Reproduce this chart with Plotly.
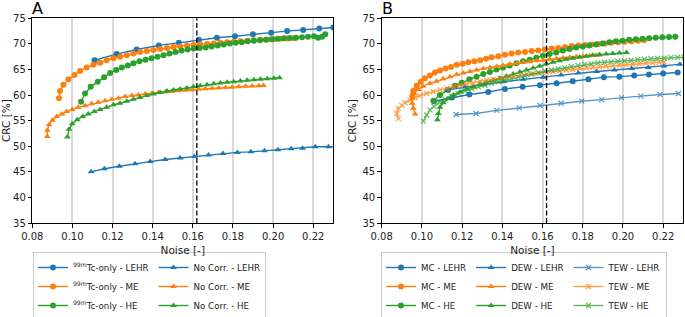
import plotly.graph_objects as go

# ---------------- data: panel A ----------------
tc_lehr_x = [0.111, 0.122, 0.132, 0.143, 0.153, 0.163, 0.172, 0.181, 0.190, 0.199, 0.207, 0.215, 0.223, 0.230]
tc_lehr_y = [66.8, 68.0, 68.9, 69.7, 70.2, 70.8, 71.2, 71.5, 71.9, 72.2, 72.5, 72.7, 73.0, 73.2]

tc_me_x = [0.0933, 0.0938, 0.0955, 0.098, 0.101, 0.1038, 0.1071, 0.1104, 0.1138, 0.1171, 0.1204, 0.1238,
           0.1271, 0.1304, 0.1337, 0.1371, 0.1404, 0.1437, 0.1471, 0.1504, 0.1537, 0.1571, 0.1604, 0.1637,
           0.1671, 0.1704, 0.1737, 0.1771, 0.1804, 0.1837, 0.1871, 0.1904, 0.1937, 0.1971, 0.2004, 0.2037,
           0.2071, 0.2104]
tc_me_y = [59.4, 60.8, 62.0, 63.1, 63.9, 64.7, 65.4, 65.9, 66.3, 66.8, 67.2, 67.5, 67.8, 68.1, 68.4, 68.6,
           68.8, 69.0, 69.2, 69.4, 69.5, 69.7, 69.8, 69.9, 70.0, 70.1, 70.2, 70.3, 70.4, 70.5, 70.6, 70.7,
           70.8, 70.85, 70.9, 71.0, 71.05, 71.1]

tc_he_x = [0.1043, 0.1063, 0.1091, 0.1126, 0.1158, 0.1188, 0.1218, 0.1246, 0.1276, 0.1304, 0.1334, 0.1364,
           0.1394, 0.1424, 0.1454, 0.1484, 0.1514, 0.1544, 0.1574, 0.1604, 0.1634, 0.1664, 0.1694, 0.1724,
           0.1754, 0.1784, 0.1814, 0.1844, 0.1874, 0.1904, 0.1934, 0.1964, 0.1994, 0.2024, 0.2054, 0.2084,
           0.2114, 0.2144, 0.2174, 0.2204, 0.2224, 0.2244, 0.226]
tc_he_y = [58.7, 60.3, 61.6, 62.6, 63.5, 64.3, 64.9, 65.4, 65.8, 66.2, 66.6, 66.9, 67.2, 67.5, 67.8, 68.1,
           68.4, 68.7, 68.9, 69.1, 69.2, 69.3, 69.5, 69.7, 69.9, 70.1, 70.2, 70.3, 70.5, 70.6, 70.7, 70.8,
           70.9, 71.0, 71.1, 71.15, 71.2, 71.3, 71.4, 71.5, 71.2, 71.4, 71.9]

nc_lehr_x = [0.1093, 0.1159, 0.1234, 0.1312, 0.1387, 0.1462, 0.1537, 0.1608, 0.1678, 0.175, 0.1822, 0.1889,
             0.1957, 0.2024, 0.209, 0.2147, 0.221, 0.2276, 0.2335]
nc_lehr_y = [45.0, 45.6, 46.1, 46.6, 47.0, 47.4, 47.7, 48.0, 48.3, 48.6, 48.8, 48.9, 49.1, 49.3, 49.5, 49.6,
             49.9, 49.9, 49.9]

nc_me_x = [0.0875, 0.0875, 0.0883, 0.090, 0.0922, 0.0947, 0.0971, 0.0999, 0.1029, 0.1063, 0.1096, 0.1129,
           0.1163, 0.1196, 0.1229, 0.1263, 0.1296, 0.1329, 0.1363, 0.1396, 0.1429, 0.1463, 0.1496, 0.1529,
           0.1563, 0.1596, 0.1629, 0.1663, 0.1696, 0.1729, 0.1763, 0.1796, 0.1829, 0.1863, 0.1896, 0.1929,
           0.1952]
nc_me_y = [51.9, 53.1, 54.2, 55.1, 55.8, 56.3, 56.8, 57.2, 57.6, 57.9, 58.3, 58.6, 58.9, 59.2, 59.4, 59.7,
           59.9, 60.0, 60.2, 60.35, 60.5, 60.6, 60.7, 60.85, 60.95, 61.05, 61.15, 61.25, 61.35, 61.4, 61.5,
           61.55, 61.6, 61.7, 61.75, 61.8, 61.85]

nc_he_x = [0.0975, 0.0983, 0.0999, 0.1024, 0.1051, 0.1079, 0.1109, 0.1138, 0.1171, 0.1204, 0.1237, 0.1271,
           0.1304, 0.1337, 0.1371, 0.1404, 0.1437, 0.1471, 0.1504, 0.1537, 0.1571, 0.1604, 0.1637, 0.1671,
           0.1704, 0.1737, 0.1771, 0.1804, 0.1837, 0.1871, 0.1904, 0.1937, 0.1971, 0.2004, 0.2032]
nc_he_y = [51.8, 53.3, 54.4, 55.2, 55.8, 56.3, 56.8, 57.2, 57.6, 58.1, 58.4, 58.8, 59.2, 59.5, 59.9, 60.2,
           60.5, 60.8, 61.0, 61.2, 61.4, 61.6, 61.8, 62.0, 62.2, 62.35, 62.5, 62.6, 62.75, 62.9, 63.0, 63.1,
           63.2, 63.3, 63.4]

# ---------------- data: panel B ----------------
mc_lehr_x = [0.106, 0.115, 0.1236, 0.133, 0.1413, 0.1501, 0.1587, 0.167, 0.175, 0.1828, 0.1905, 0.1982,
             0.2056, 0.2129, 0.22, 0.2272]
mc_lehr_y = [58.8, 59.5, 60.1, 60.6, 61.2, 61.6, 61.9, 62.3, 62.7, 63.1, 63.5, 63.6, 63.8, 64.0, 64.2, 64.4]

dew_lehr_x = [0.1123, 0.1215, 0.131, 0.1405, 0.1504, 0.1604, 0.1692, 0.1778, 0.1869, 0.1957, 0.2043, 0.2126,
              0.2204, 0.2283]
dew_lehr_y = [61.0, 61.6, 62.1, 62.6, 63.1, 63.5, 63.9, 64.3, 64.6, 64.9, 65.2, 65.4, 65.7, 66.0]

tew_lehr_x = [0.117, 0.127, 0.1372, 0.1484, 0.1587, 0.1692, 0.1795, 0.1894, 0.1993, 0.2089, 0.2184, 0.2276]
tew_lehr_y = [56.2, 56.4, 57.0, 57.5, 58.0, 58.4, 58.8, 59.1, 59.5, 59.8, 60.1, 60.3]

mc_me_x = [0.0952, 0.0957, 0.0974, 0.0994, 0.1015, 0.104, 0.1065, 0.109, 0.1118, 0.1145, 0.1173, 0.1203,
           0.1231, 0.1261, 0.129, 0.1319, 0.1347, 0.138, 0.1413, 0.1446, 0.1479, 0.1513, 0.1546, 0.1579,
           0.1612, 0.1645, 0.1678, 0.1712, 0.1745, 0.1778, 0.1811, 0.1844, 0.1877, 0.191, 0.1943, 0.1976,
           0.2009, 0.2042, 0.2075, 0.2105]
mc_me_y = [59.8, 60.8, 61.8, 62.6, 63.3, 63.8, 64.4, 64.8, 65.2, 65.5, 65.9, 66.1, 66.4, 66.6, 66.8, 67.1,
           67.4, 67.6, 67.9, 68.1, 68.3, 68.4, 68.6, 68.7, 68.9, 69.1, 69.2, 69.4, 69.6, 69.7, 69.8, 69.9,
           70.0, 70.1, 70.2, 70.3, 70.4, 70.5, 70.6, 70.7]

mc_he_x = [0.1057, 0.109, 0.1131, 0.1165, 0.1198, 0.1236, 0.1272, 0.1305, 0.1338, 0.1371, 0.1404, 0.1437,
           0.147, 0.1503, 0.1536, 0.1569, 0.1602, 0.1635, 0.1668, 0.1701, 0.1734, 0.1767, 0.18, 0.1833,
           0.1866, 0.1899, 0.1932, 0.1965, 0.1998, 0.2031, 0.2064, 0.2097, 0.213, 0.2163, 0.2196, 0.2229, 0.226]
mc_he_y = [58.9, 60.0, 61.0, 61.8, 62.4, 63.1, 63.6, 64.1, 64.5, 65.0, 65.4, 65.8, 66.2, 66.6, 66.9, 67.3,
           67.7, 68.0, 68.3, 68.7, 69.0, 69.3, 69.5, 69.7, 69.9, 70.1, 70.3, 70.5, 70.6, 70.8, 70.9, 71.0,
           71.1, 71.2, 71.3, 71.35, 71.4]

dew_me_x = [0.0966, 0.0957, 0.0952, 0.0952, 0.0962, 0.0982, 0.1006, 0.104, 0.1073, 0.1106, 0.114, 0.1173,
            0.1206, 0.1239, 0.1272, 0.1306, 0.1339, 0.1372, 0.1405, 0.1438, 0.1471, 0.1504, 0.1537, 0.157,
            0.1603, 0.1636, 0.1669, 0.1702, 0.1735, 0.1768, 0.1801, 0.1834, 0.1867, 0.1885]
dew_me_y = [56.3, 57.4, 58.4, 59.3, 60.3, 61.1, 61.7, 62.3, 62.7, 63.2, 63.6, 64.0, 64.3, 64.6, 64.9, 65.2,
            65.4, 65.6, 65.8, 66.0, 66.2, 66.4, 66.5, 66.7, 66.8, 67.0, 67.1, 67.3, 67.4, 67.5, 67.6, 67.7,
            67.8, 67.9]

dew_he_x = [0.1077, 0.1082, 0.109, 0.1106, 0.113, 0.1156, 0.1189, 0.1222, 0.1255, 0.1289, 0.1322, 0.1355,
            0.1388, 0.1421, 0.1454, 0.1487, 0.152, 0.1553, 0.1586, 0.1619, 0.1652, 0.1685, 0.1718, 0.1751,
            0.1784, 0.1817, 0.185, 0.1883, 0.1916, 0.1949, 0.1982, 0.2018]
dew_he_y = [55.2, 56.4, 57.6, 58.5, 59.3, 60.0, 60.6, 61.2, 61.6, 62.1, 62.5, 62.9, 63.3, 63.7, 64.1, 64.5,
            64.9, 65.3, 65.7, 66.1, 66.4, 66.7, 67.0, 67.2, 67.4, 67.6, 67.8, 67.9, 68.0, 68.1, 68.2, 68.3]

tew_me_x = [0.0883, 0.0875, 0.0883, 0.09, 0.0916, 0.0941, 0.0966, 0.099, 0.1023, 0.1056, 0.109, 0.1123,
            0.1156, 0.1189, 0.1222, 0.1255, 0.1289, 0.1322, 0.1355, 0.1388, 0.1421, 0.1454, 0.1487, 0.152,
            0.1553, 0.1586, 0.1619, 0.1652, 0.1685, 0.1718, 0.1751, 0.1784, 0.1817, 0.185, 0.1883, 0.1916,
            0.1949, 0.1982, 0.2015, 0.2048, 0.2081, 0.2114, 0.2147, 0.218, 0.2205]
tew_me_y = [55.4, 56.4, 57.4, 58.0, 58.5, 59.0, 59.5, 59.9, 60.3, 60.7, 61.0, 61.3, 61.7, 61.9, 62.2, 62.4,
            62.7, 62.9, 63.1, 63.3, 63.5, 63.7, 63.9, 64.1, 64.2, 64.3, 64.4, 64.6, 64.7, 64.9, 65.0, 65.2,
            65.3, 65.4, 65.5, 65.6, 65.7, 65.8, 65.9, 66.0, 66.1, 66.2, 66.3, 66.4, 66.5]

tew_he_x = [0.1007, 0.1024, 0.104, 0.106, 0.1087, 0.1115, 0.1148, 0.1181, 0.1214, 0.1248, 0.1281, 0.1314,
            0.1347, 0.138, 0.1413, 0.1446, 0.1479, 0.1512, 0.1545, 0.1578, 0.1611, 0.1644, 0.1677, 0.171,
            0.1743, 0.1776, 0.1809, 0.1842, 0.1875, 0.1908, 0.1941, 0.1974, 0.2007, 0.204, 0.2073, 0.2106,
            0.2139, 0.2172, 0.2205, 0.2238, 0.2271, 0.2304]
tew_he_y = [54.9, 56.1, 57.1, 57.8, 58.6, 59.2, 59.8, 60.3, 60.8, 61.2, 61.6, 61.9, 62.3, 62.6, 62.9, 63.2,
            63.5, 63.8, 64.1, 64.4, 64.7, 64.9, 65.1, 65.3, 65.6, 65.8, 66.0, 66.1, 66.3, 66.4, 66.5, 66.6,
            66.7, 66.8, 66.9, 67.0, 67.1, 67.15, 67.2, 67.3, 67.35, 67.4]

ref_noise = 0.162
x_ticks = [0.08, 0.10, 0.12, 0.14, 0.16, 0.18, 0.20, 0.22]
y_ticks = [35, 40, 45, 50, 55, 60, 65, 70, 75]

# ---------------- styling ----------------
BLUE, ORANGE, GREEN = "#1f77b4", "#ff7f0e", "#2ca02c"
FONT = "DejaVu Sans"
W, H = 685, 317

fig = go.Figure()


def add(x, y, name, color, symbol, axis, legend, group, size=6, opacity=1.0, mline=0):
    fig.add_trace(go.Scatter(
        x=x, y=y, name=name, mode="lines+markers",
        line=dict(color=color, width=1.4),
        marker=dict(color=color, symbol=symbol, size=size,
                    line=dict(color=color, width=mline)),
        opacity=opacity,
        xaxis="x" if axis == 1 else "x2", yaxis="y" if axis == 1 else "y2",
        legend=legend, legendgroup=group,
    ))


# Panel A
add(tc_lehr_x, tc_lehr_y, "<sup>99m</sup>Tc-only - LEHR", BLUE, "circle", 1, "legend", "tc")
add(tc_me_x, tc_me_y, "<sup>99m</sup>Tc-only - ME", ORANGE, "circle", 1, "legend", "tc")
add(tc_he_x, tc_he_y, "<sup>99m</sup>Tc-only - HE", GREEN, "circle", 1, "legend", "tc")
add(nc_lehr_x, nc_lehr_y, "No Corr. - LEHR", BLUE, "triangle-up", 1, "legend", "nc")
add(nc_me_x, nc_me_y, "No Corr. - ME", ORANGE, "triangle-up", 1, "legend", "nc")
add(nc_he_x, nc_he_y, "No Corr. - HE", GREEN, "triangle-up", 1, "legend", "nc")

# Panel B
add(mc_lehr_x, mc_lehr_y, "MC - LEHR", BLUE, "circle", 2, "legend2", "mc")
add(mc_me_x, mc_me_y, "MC - ME", ORANGE, "circle", 2, "legend2", "mc")
add(mc_he_x, mc_he_y, "MC - HE", GREEN, "circle", 2, "legend2", "mc")
add(dew_lehr_x, dew_lehr_y, "DEW - LEHR", BLUE, "triangle-up", 2, "legend2", "dew")
add(dew_me_x, dew_me_y, "DEW - ME", ORANGE, "triangle-up", 2, "legend2", "dew")
add(dew_he_x, dew_he_y, "DEW - HE", GREEN, "triangle-up", 2, "legend2", "dew")
add(tew_lehr_x, tew_lehr_y, "TEW - LEHR", BLUE, "x-thin", 2, "legend2", "tew", size=5, opacity=0.75, mline=1.2)
add(tew_me_x, tew_me_y, "TEW - ME", ORANGE, "x-thin", 2, "legend2", "tew", size=5, opacity=0.75, mline=1.2)
add(tew_he_x, tew_he_y, "TEW - HE", GREEN, "x-thin", 2, "legend2", "tew", size=5, opacity=0.75, mline=1.2)

# axes geometry (pixels -> paper)
ax_a = (32.3 / W, 333.3 / W)
ax_b = (381.7 / W, 683.3 / W)
y_dom = (1 - 223.0 / H, 1 - 18.3 / H)

xaxis_common = dict(
    range=[0.08, 0.23], tickvals=x_ticks, ticktext=[f"{v:.2f}" for v in x_ticks],
    showgrid=True, gridcolor="#d9d9d9", gridwidth=1.5,
    showline=True, mirror=True, linecolor="black", linewidth=1,
    ticks="outside", ticklen=3.5, tickcolor="black", tickwidth=1,
    tickfont=dict(family=FONT, size=10, color="#222"),
    title=dict(text="Noise [-]", font=dict(family=FONT, size=10.5, color="#222"), standoff=6),
    zeroline=False, automargin=False,
)
yaxis_common = dict(
    range=[35, 75], tickvals=y_ticks,
    showgrid=False, showline=True, mirror=True, linecolor="black", linewidth=1,
    ticks="outside", ticklen=3.5, tickcolor="black", tickwidth=1,
    tickfont=dict(family=FONT, size=10, color="#222"),
    title=dict(text="CRC [%]", font=dict(family=FONT, size=10.5, color="#222"), standoff=3),
    zeroline=False, domain=list(y_dom), automargin=False,
)

legend_common = dict(
    orientation="h", traceorder="grouped", yanchor="top", xanchor="left",
    bgcolor="white", bordercolor="#cccccc", borderwidth=1,
    font=dict(family=FONT, size=8.7, color="#222"), itemwidth=30,
)

fig.update_layout(
    width=W, height=H, margin=dict(l=0, r=0, t=0, b=0, autoexpand=False),
    paper_bgcolor="white", plot_bgcolor="white",
    font=dict(family=FONT, color="#222"),
    xaxis=dict(xaxis_common, domain=list(ax_a), anchor="y"),
    yaxis=dict(yaxis_common, anchor="x"),
    xaxis2=dict(xaxis_common, domain=list(ax_b), anchor="y2"),
    yaxis2=dict(yaxis_common, anchor="x2"),
    legend=dict(legend_common, x=33 / W, y=1 - 252 / H, tracegroupgap=10),
    legend2=dict(legend_common, x=381 / W, y=1 - 252 / H, tracegroupgap=10),
    showlegend=True,
    shapes=[
        dict(type="line", xref="x", yref="y domain", x0=ref_noise, x1=ref_noise, y0=0, y1=1,
             line=dict(color="black", width=1.3, dash="5px,2.5px")),
        dict(type="line", xref="x2", yref="y2 domain", x0=ref_noise, x1=ref_noise, y0=0, y1=1,
             line=dict(color="black", width=1.3, dash="5px,2.5px")),
    ],
    annotations=[
        dict(text="A", xref="paper", yref="paper", x=ax_a[0], y=1, xanchor="left", yanchor="top",
             showarrow=False, font=dict(family=FONT, size=16, color="black"), xshift=-2, yshift=3),
        dict(text="B", xref="paper", yref="paper", x=ax_b[0], y=1, xanchor="left", yanchor="top",
             showarrow=False, font=dict(family=FONT, size=16, color="black"), xshift=-2, yshift=3),
    ],
)

fig.write_html(
    "out.html",
    config={"displayModeBar": False},
    post_script="document.body.style.margin='0';document.body.style.overflow='hidden';",
)
